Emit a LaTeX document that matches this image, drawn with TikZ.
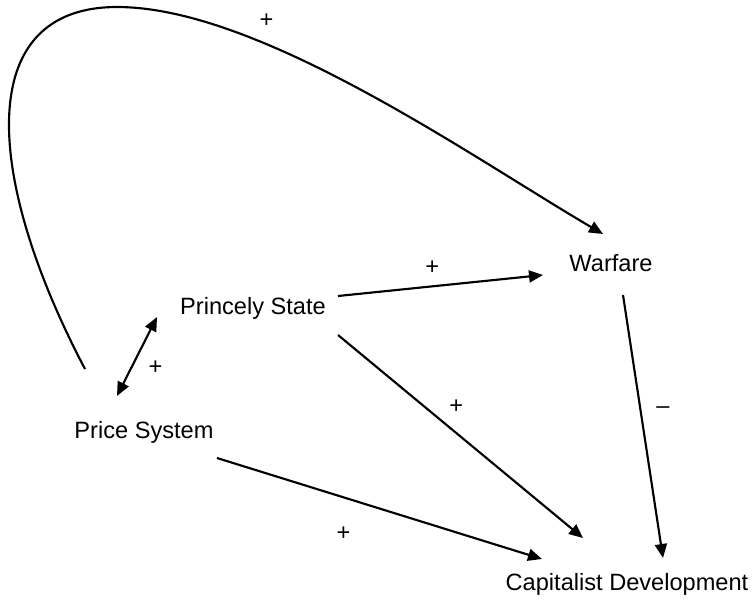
\documentclass[tikz,border=0pt]{standalone}
\usepackage{fontspec}
\setmainfont{Liberation Sans}
\usetikzlibrary{positioning, arrows.meta}
\tikzset{
    x=0.75pt, y=-0.75pt, % one unit is one pixel of the sketch, y runs downwards
    on grid, % relative placement measures from centre to centre
    >={Triangle[length=10.5pt,width=9pt]},
    factor/.style={font=\fontsize{17.7}{21}\selectfont}, % the four nodes
    sign/.style={font=\fontsize{17.7}{21}\selectfont}, % the + and - labels
    link/.style={line width=1.6pt},
    }

\begin{document}
\begin{tikzpicture}
\useasboundingbox (0,0) rectangle (755,601);
\node[factor] (price) at (144,432) {Price System};
\node[factor, above right=93pt and 81.75pt of price] (princely) {Princely State};
\node[factor, above right=33.75pt and 268.5pt of princely] (warfare) {Warfare};
\node[factor, below right=114pt and 362.25pt of price] (capital) {Capitalist Development};

\path[link, ->] ([shift={(85,-12)}]princely.center) edge node[sign, pos=0.46, shift={(0,-19)}] {+} ([shift={(-68,12)}]warfare.center)
([shift={(85,27)}]princely.center) edge node[sign, pos=0.43, shift={(13,-16)}] {+} ([shift={(-44,-46)}]capital.center)
([shift={(73,26)}]price.center) edge node[sign, pos=0.42, shift={(-10,33)}] {+} ([shift={(-85,-25)}]capital.center)
([shift={(12,32)}]warfare.center) edge node[sign, pos=0.45, shift={(22,-3)}] {\textendash} ([shift={(36,-26)}]capital.center);

% both ways between prices and the state
\draw[link, <->] ([shift={(-27,-36)}]price.center) -- node[sign, pos=0.49, shift={(19,10)}] {+} ([shift={(-96,9)}]princely.center);

% the long loop from the price system over the top to warfare
\draw[link, ->] ([shift={(-59,-63)}]price.center)
    .. controls +(-100,-190) and +(-145,0) .. (117,7)
    .. controls +(143,0) and +(-130,-76) .. ([shift={(-8,-29)}]warfare.center)
    node[sign, pos=0.3, shift={(6,-21)}] {+};
\end{tikzpicture}
\end{document}
